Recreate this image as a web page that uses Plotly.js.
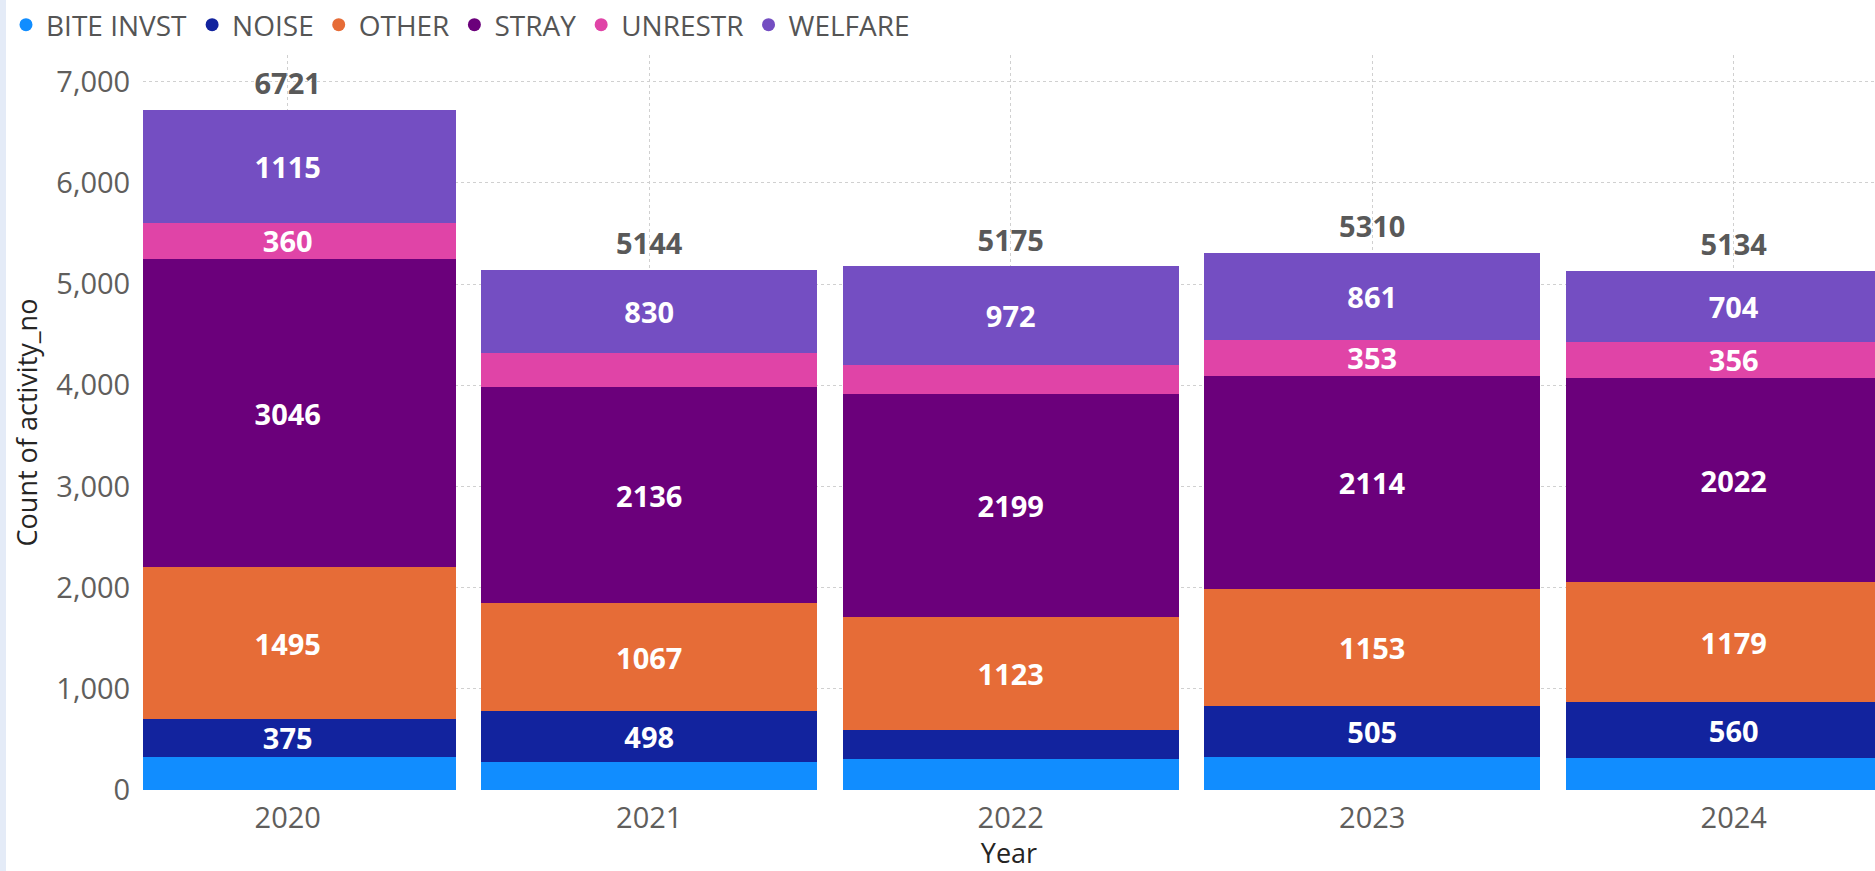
<!DOCTYPE html>
<html>
<head>
<meta charset="utf-8">
<script src="https://cdn.plot.ly/plotly-3.0.1.min.js"></script>
<style>
  html, body { margin: 0; padding: 0; background: #ffffff; width: 1875px; height: 871px; overflow: hidden; }
  #strip { position: absolute; left: 0; top: 0; width: 6px; height: 871px; background: #e4ebf7; }
  #chart { position: absolute; left: 6px; top: 0; width: 1869px; height: 871px; }
</style>
</head>
<body>
<div id="strip"></div>
<div id="chart"></div>
<script>
const years = ["2020", "2021", "2022", "2023", "2024"];
const seriesNames = ["BITE INVST", "NOISE", "OTHER", "STRAY", "UNRESTR", "WELFARE"];
const biteInvst = [330, 280, 306, 324, 313];
const noise     = [375, 498, 285, 505, 560];
const other     = [1495, 1067, 1123, 1153, 1179];
const stray     = [3046, 2136, 2199, 2114, 2022];
const unrestr   = [360, 333, 290, 353, 356];
const welfare   = [1115, 830, 972, 861, 704];
const colors = ["#118DFF", "#12239E", "#E66C37", "#6B007B", "#E044A7", "#744EC2"];
const yTicks = [0, 1000, 2000, 3000, 4000, 5000, 6000, 7000];

const allSeries = [biteInvst, noise, other, stray, unrestr, welfare];
const labelMin = 350; // Power BI hides labels on thin segments

const FONT = "Open Sans, Noto Sans, sans-serif";
const traces = [];
allSeries.forEach((vals, i) => {
  traces.push({
    type: "bar",
    name: seriesNames[i],
    x: years,
    y: vals,
    marker: { color: colors[i], line: { width: 0 } },
    text: vals.map(v => v >= labelMin ? String(v) : ""),
    textposition: "inside",
    insidetextanchor: "middle",
    constraintext: "none",
    textangle: 0,
    textfont: { family: FONT, size: 29, color: "#ffffff", weight: "bold" },
    showlegend: false,
    hoverinfo: "x+y+name"
  });
});

const totals = years.map((_, j) => allSeries.reduce((s, arr) => s + arr[j], 0));
traces.push({
  type: "scatter",
  mode: "markers+text",
  x: years,
  y: totals,
  marker: { size: 12, opacity: 0 },
  text: totals.map(t => String(t)),
  textposition: "top center",
  textfont: { family: FONT, size: 29, color: "#595959", weight: "bold" },
  cliponaxis: false,
  showlegend: false,
  hoverinfo: "skip"
});

// legend entries with round markers
seriesNames.forEach((n, i) => {
  traces.push({
    type: "scatter",
    mode: "markers",
    name: n,
    x: [null], y: [null],
    marker: { color: colors[i], size: 13, symbol: "circle" },
    showlegend: true,
    hoverinfo: "skip"
  });
});

const layout = {
  width: 1869, height: 871,
  margin: { l: 137, r: 0, t: 55, b: 81, pad: 0 },
  paper_bgcolor: "#ffffff",
  plot_bgcolor: "#ffffff",
  barmode: "stack",
  bargap: 0.07,
  font: { family: FONT, color: "#605e5c" },
  showlegend: true,
  legend: {
    orientation: "h", xref: "container", yref: "container",
    x: 0.0, y: 1.0, xanchor: "left", yanchor: "top",
    traceorder: "normal",
    font: { family: FONT, size: 28, color: "#555555" },
    itemwidth: 30, tracegroupgap: 0,
    bgcolor: "rgba(0,0,0,0)"
  },
  xaxis: {
    type: "category",
    range: [-0.4003, 4.3908],
    showgrid: true, griddash: "dot", gridcolor: "#d0d0d0", gridwidth: 1,
    showline: false, zeroline: false,
    ticks: "outside", ticklen: 2, tickcolor: "rgba(0,0,0,0)",
    tickfont: { family: FONT, size: 29, color: "#605e5c" },
    title: { text: "Year", font: { family: FONT, size: 27, color: "#252423" }, standoff: 14 },
    fixedrange: true
  },
  yaxis: {
    range: [0, 7264],
    tickvals: yTicks,
    ticktext: yTicks.map(v => v.toLocaleString("en-US")),
    showgrid: true, griddash: "dot", gridcolor: "#d0d0d0", gridwidth: 1,
    showline: false, zeroline: false,
    ticks: "outside", ticklen: 6, tickcolor: "rgba(0,0,0,0)",
    tickfont: { family: FONT, size: 29, color: "#605e5c" },
    title: { text: "Count of activity_no", font: { family: FONT, size: 27, color: "#252423" }, standoff: 10 },
    fixedrange: true
  }
};

Plotly.newPlot("chart", traces, layout, { displayModeBar: false, staticPlot: true });
</script>
</body>
</html>
